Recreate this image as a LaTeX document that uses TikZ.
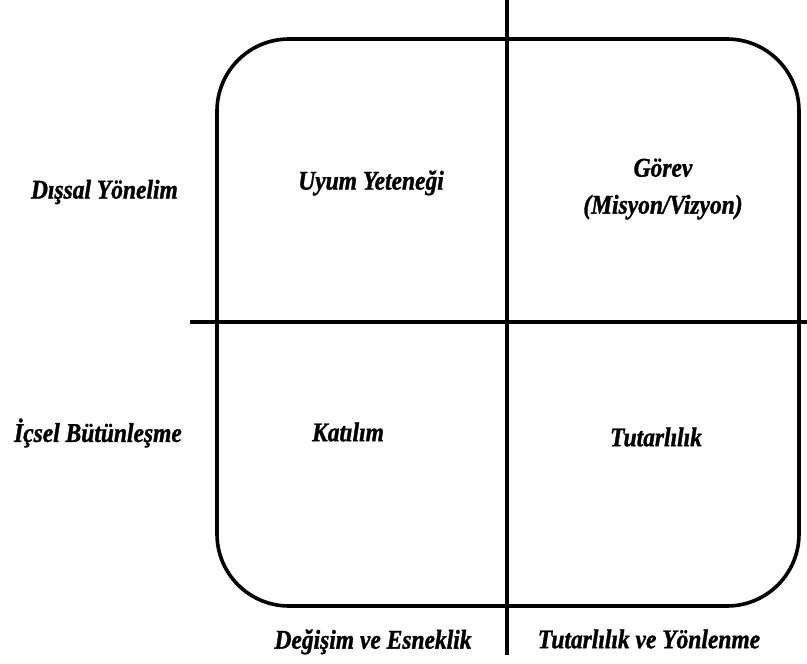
\documentclass[tikz,border=0pt]{standalone}
\usepackage{fontspec}
\setmainfont[FakeStretch=0.87, BoldItalicFeatures={FakeBold=1.2}]{Liberation Serif}
\begin{document}
\begin{tikzpicture}[x=1pt,y=-1pt,
  lbl/.style={font=\fontsize{27}{37}\selectfont\bfseries\itshape, inner sep=0pt, align=center},
  thick line/.style={line width=3.6pt, black}]
\useasboundingbox (0,0) rectangle (807,664);
\draw[thick line, rounded corners=72pt] (217,39) rectangle (799,606);
\coordinate (vt) at (507,0);
\coordinate (vb) at (507,655);
\coordinate (hl) at (190,322);
\coordinate (hr) at (807,322);
\draw[thick line] (vt) -- (vb);
\draw[thick line] (hl) -- (hr);
\node[lbl] (uyum) at (371,183) {Uyum Yeteneği};
\node[lbl] (gorev) at (663,189) {Görev\\(Misyon/Vizyon)};
\node[lbl] (katilim) at (348,432) {Katılım};
\node[lbl] (tutar) at (656,437) {Tutarlılık};
\node[lbl, anchor=east] (dissal) at (178,192) {Dışsal Yönelim};
\node[lbl, anchor=east] (icsel) at (182,433) {İçsel Bütünleşme};
\node[lbl] (degisim) at (373,642) {Değişim ve Esneklik};
\node[lbl] (tyon) at (649,639) {Tutarlılık ve Yönlenme};
\end{tikzpicture}
\end{document}
